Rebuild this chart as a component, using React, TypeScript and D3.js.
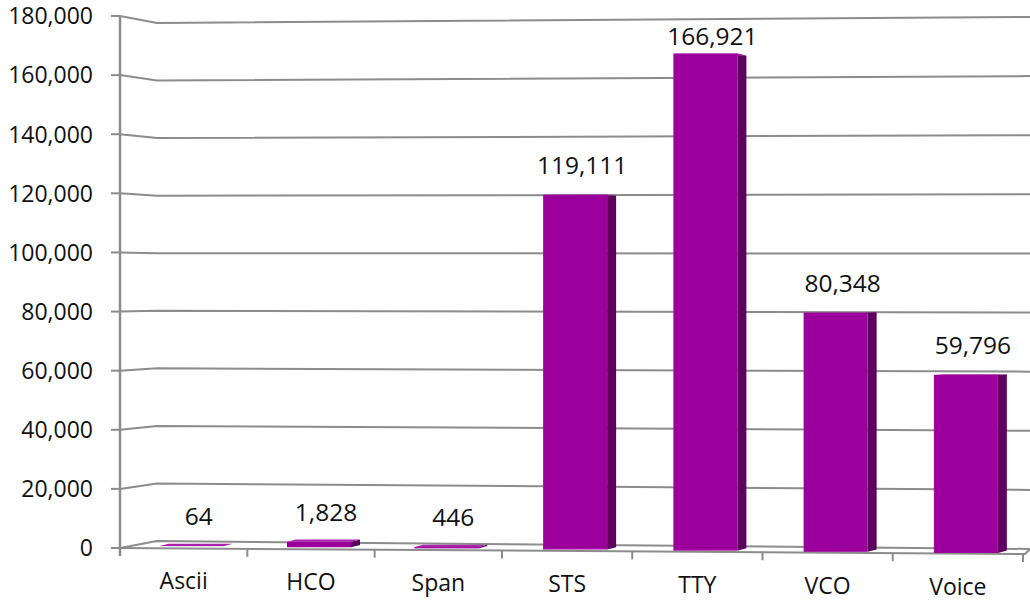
import { scaleLinear, format, path as d3path } from "d3";

const categories = ["Ascii", "HCO", "Span", "STS", "TTY", "VCO", "Voice"];
const counts = [64, 1828, 446, 119111, 166921, 80348, 59796];
const yTicks = [0, 20000, 40000, 60000, 80000, 100000, 120000, 140000, 160000, 180000];
const yMax = 180000;

const W = 1030;
const H = 601;
const FONT = "'Open Sans', 'Noto Sans', sans-serif";
const GRID = "#8c8c8c";
const FRONT = "#9c009c";
const SIDE = "#5e005e";
const TOP = "#a824a8";

export default function App() {
  // front edge of the left wall (value axis)
  const axisX = 120;
  const wallX = 157;
  const frontY = scaleLinear().domain([0, yMax]).range([548, 16]);
  // back wall, left and right edges (slight perspective)
  const backLeftY = scaleLinear().domain([0, yMax]).range([541, 23]);
  const backRightY = scaleLinear().domain([0, yMax]).range([549, 17]);
  // floor front edge and the line the bars stand on
  const floorFront = scaleLinear().domain([120, 1025]).range([548, 554]);
  const barBase = scaleLinear().domain([120, 1025]).range([545.5, 553.5]);
  const barH = scaleLinear().domain([0, yMax]).range([0, 536]);

  // category slots widen a little to the right (perspective)
  const slot = scaleLinear().domain([0, 3, categories.length]).range([120, 502, 1023]);
  const xMid = (c: string) => slot(categories.indexOf(c) + 0.5);
  const fmt = format(",");

  const barW = 64;
  const depthX = 9;
  const depthY = (y: number) => (290 - y) * 0.009;

  const poly = (pts: number[][]) => {
    const p = d3path();
    pts.forEach((q, i) => (i ? p.lineTo(q[0], q[1]) : p.moveTo(q[0], q[1])));
    p.closePath();
    return p.toString();
  };

  const bars = categories.map((c, i) => {
    const cx = xMid(c) + 8;
    const x0 = cx - barW / 2;
    const x1 = cx + barW / 2;
    const base = barBase(cx);
    const top = base - barH(counts[i]);
    return { c, v: counts[i], cx, x0, x1, base, top };
  });

  const bottomTicks = categories.map((c, i) => slot(i)).concat(slot(categories.length));

  return (
    <div style={{ position: "absolute", left: 0, top: 0 }}>
      <svg width={W} height={H} style={{ display: "block", background: "#fff" }}>
        {/* gridlines: side wall + back wall */}
        {yTicks.map((t) => (
          <polyline
            key={"g" + t}
            points={`${axisX},${frontY(t)} ${wallX},${backLeftY(t)} ${W},${backRightY(t)}`}
            fill="none"
            stroke={GRID}
            strokeWidth={2}
          />
        ))}
        {/* floor front edge */}
        <polyline
          points={`${axisX},${frontY(0)} 1025,${floorFront(1025)} ${W},${backRightY(0)}`}
          fill="none"
          stroke={GRID}
          strokeWidth={2}
        />
        {/* value axis */}
        <line x1={axisX} x2={axisX} y1={frontY(yMax)} y2={frontY(0) + 8} stroke={GRID} strokeWidth={2.5} />
        {yTicks.map((t) => (
          <line key={"t" + t} x1={axisX - 9} x2={axisX} y1={frontY(t)} y2={frontY(t)} stroke={GRID} strokeWidth={2} />
        ))}
        {bottomTicks.map((bx, i) => (
          <line
            key={"bt" + i}
            x1={bx}
            x2={bx}
            y1={floorFront(bx)}
            y2={floorFront(bx) + 8}
            stroke={GRID}
            strokeWidth={2}
          />
        ))}
        {yTicks.map((t) => (
          <text
            key={"l" + t}
            x={93}
            y={frontY(t)}
            dy="0.36em"
            textAnchor="end"
            fontFamily={FONT}
            fontSize={23}
            fill="#111"
          >
            {fmt(t)}
          </text>
        ))}

        {/* bars */}
        {bars.map((b) => {
          const dt = depthY(b.top);
          const db = depthY(b.base);
          return (
            <g key={b.c}>
              <path
                d={poly([
                  [b.x1, b.top],
                  [b.x1 + depthX, b.top + dt],
                  [b.x1 + depthX, b.base + db],
                  [b.x1, b.base],
                ])}
                fill={SIDE}
              />
              <path
                d={poly([
                  [b.x0, b.top],
                  [b.x1, b.top],
                  [b.x1 + depthX, b.top + dt],
                  [b.x0 + depthX, b.top + dt],
                ])}
                fill={TOP}
              />
              <rect x={b.x0} y={b.top} width={barW} height={Math.max(0, b.base - b.top)} fill={FRONT} />
            </g>
          );
        })}

        {/* data labels */}
        {bars.map((b) => (
          <text
            key={"v" + b.c}
            x={b.cx + 7}
            y={Math.max(b.top - 21, frontY(yMax) + 29)}
            textAnchor="middle"
            fontFamily={FONT}
            fontSize={24.5}
            fill="#111"
          >
            {fmt(b.v)}
          </text>
        ))}

        {/* category labels */}
        {categories.map((c) => {
          const cx = xMid(c);
          return (
            <text
              key={"c" + c}
              x={cx}
              y={floorFront(cx) + 41}
              textAnchor="middle"
              fontFamily={FONT}
              fontSize={23}
              fill="#111"
            >
              {c}
            </text>
          );
        })}
      </svg>
    </div>
  );
}
